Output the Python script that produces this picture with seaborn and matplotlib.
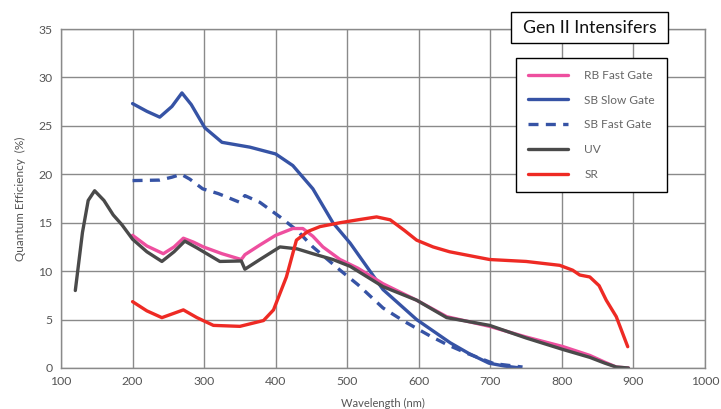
import matplotlib
matplotlib.use("Agg")
import matplotlib.pyplot as plt
import seaborn as sns
from matplotlib.lines import Line2D
from matplotlib.patches import Rectangle

# data (wavelength in nm, QE in %)
rb_fast_x = [200, 220, 243, 258, 271, 285, 299, 325, 352, 357, 378, 400, 424, 438, 452, 466,
             490, 515, 550, 597, 639, 699, 750, 802, 839, 860, 876, 893]
rb_fast_y = [13.7, 12.6, 11.8, 12.5, 13.4, 13.0, 12.5, 11.8, 11.2, 11.7, 12.7, 13.7, 14.4, 14.4,
             13.6, 12.5, 11.2, 10.3, 8.7, 7.0, 5.3, 4.3, 3.2, 2.2, 1.3, 0.6, 0.1, 0.0]

sb_slow_x = [200, 220, 238, 255, 269, 282, 301, 325, 364, 400, 424, 452, 480, 504, 550, 597,
             644, 670, 698, 720, 742]
sb_slow_y = [27.3, 26.5, 25.9, 27.0, 28.4, 27.2, 24.8, 23.3, 22.8, 22.1, 20.9, 18.5, 15.0, 12.9,
             8.1, 5.0, 2.6, 1.5, 0.5, 0.2, 0.0]

sb_fast_x = [200, 238, 255, 268, 280, 298, 320, 340, 350, 357, 378, 406, 430, 452, 490, 515,
             550, 580, 616, 640, 668, 705, 745]
sb_fast_y = [19.35, 19.4, 19.7, 20.0, 19.5, 18.5, 18.0, 17.4, 17.1, 17.8, 17.1, 15.6, 14.2, 12.5,
             10.1, 8.6, 6.2, 4.8, 3.3, 2.4, 1.5, 0.45, 0.1]

uv_x = [120, 130, 138, 147, 160, 173, 185, 200, 220, 241, 258, 273, 290, 322, 352, 357, 378,
        406, 430, 452, 480, 504, 550, 597, 639, 699, 750, 802, 839, 860, 876, 893]
uv_y = [8.0, 14.0, 17.3, 18.3, 17.3, 15.8, 14.8, 13.3, 12.0, 11.0, 12.0, 13.1, 12.4, 11.0,
        11.05, 10.2, 11.2, 12.5, 12.3, 11.8, 11.2, 10.5, 8.4, 7.0, 5.2, 4.4, 3.1, 1.9, 1.1, 0.5,
        0.1, 0.0]

sr_x = [200, 220, 241, 256, 271, 290, 313, 350, 383, 397, 415, 429, 445, 462, 490, 515, 541,
        560, 580, 597, 620, 643, 699, 750, 797, 815, 825, 839, 852, 862, 876, 892]
sr_y = [6.85, 5.9, 5.2, 5.6, 6.0, 5.2, 4.4, 4.3, 4.9, 6.0, 9.4, 13.2, 14.1, 14.6, 15.0, 15.3,
        15.6, 15.3, 14.2, 13.2, 12.5, 12.0, 11.2, 11.0, 10.6, 10.1, 9.6, 9.4, 8.5, 7.0, 5.3, 2.2]

series_names = ["RB Fast Gate", "SB Slow Gate", "SB Fast Gate", "UV", "SR"]
x_ticks = [100, 200, 300, 400, 500, 600, 700, 800, 900, 1000]
y_ticks = [0, 5, 10, 15, 20, 25, 30, 35]

sns.set_style("white")
plt.rcParams['font.family'] = ['Lato', 'DejaVu Sans']

colors = {"RB Fast Gate": "#ee4f9f", "SB Slow Gate": "#3653a5", "SB Fast Gate": "#3653a5",
          "UV": "#4a4a4a", "SR": "#ee2a24"}
dashed = (0, (3, 2.2))

fig = plt.figure(figsize=(7.21, 4.09), dpi=100)
ax = fig.add_axes([61 / 721, 1 - 368 / 409, 644 / 721, 339 / 409])

data = {"RB Fast Gate": (rb_fast_x, rb_fast_y), "SB Slow Gate": (sb_slow_x, sb_slow_y),
        "SB Fast Gate": (sb_fast_x, sb_fast_y), "UV": (uv_x, uv_y), "SR": (sr_x, sr_y)}

for name in ["SB Fast Gate", "SB Slow Gate", "RB Fast Gate", "UV", "SR"]:
    xs, ys = data[name]
    sns.lineplot(x=xs, y=ys, ax=ax, color=colors[name], lw=2.4, sort=False, estimator=None,
                 linestyle=dashed if name == "SB Fast Gate" else "-")

ax.set_xlim(100, 1000)
ax.set_ylim(0, 35)
ax.set_xticks(x_ticks)
ax.set_yticks(y_ticks)
ax.grid(True, color="#8a8a8a", lw=1.0)
ax.set_axisbelow(True)
for sp in ax.spines.values():
    sp.set_color("#8a8a8a")
    sp.set_linewidth(1.0)
ax.tick_params(length=0, labelsize=8.8, colors="#555555", pad=6)
ax.set_xlabel("Wavelength (nm)", fontsize=8, color="#555555", labelpad=8)
ax.set_ylabel("Quantum Efficiency  (%)", fontsize=8.5, color="#555555", labelpad=9)

handles = [Line2D([0], [0], color=colors[n], lw=2.4,
                  linestyle=dashed if n == "SB Fast Gate" else "-") for n in series_names]
leg = ax.legend(handles, series_names, loc="upper right",
                bbox_to_anchor=((667 - 61) / 644, (368 - 58) / 339),
                frameon=True, fancybox=False, fontsize=8.6, labelcolor="#666666",
                handlelength=3.3, handletextpad=1.4, labelspacing=1.15,
                borderpad=1.0, borderaxespad=0)
leg.get_frame().set_edgecolor("black")
leg.get_frame().set_linewidth(1.0)
leg.get_frame().set_facecolor("white")
leg.get_frame().set_alpha(1)

fig.patches.append(Rectangle((511 / 721, 1 - 43 / 409), 157 / 721, 31 / 409,
                             transform=fig.transFigure, fc="white", ec="black", lw=1.0,
                             zorder=5))
fig.text(589.5 / 721, 1 - 28 / 409, "Gen II Intensifers", ha="center", va="center",
         fontsize=12.8, color="#111111", zorder=6)

fig.savefig("out.png", dpi=100)
